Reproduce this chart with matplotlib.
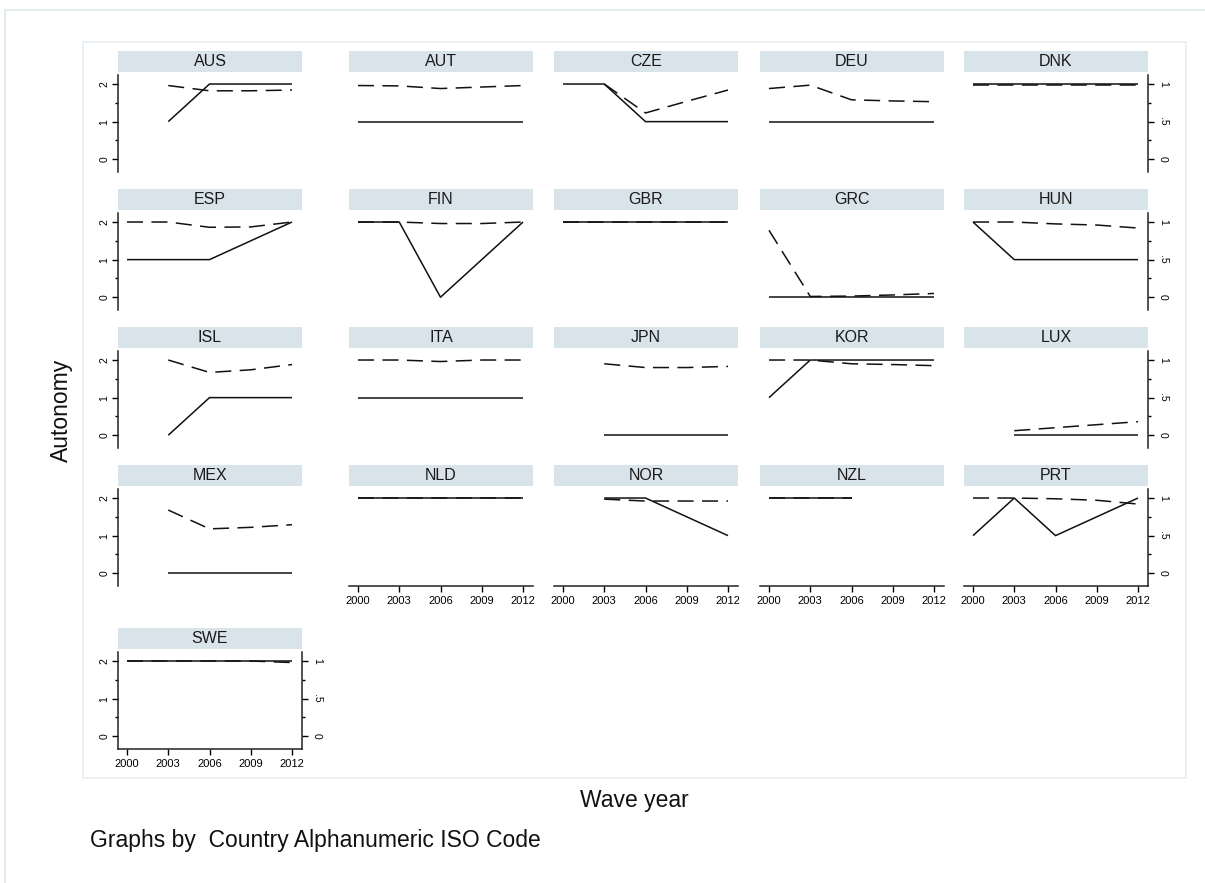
import numpy as np
import matplotlib
matplotlib.use("Agg")
import matplotlib.pyplot as plt
from matplotlib.patches import Rectangle
from matplotlib.ticker import FixedLocator

plt.rcParams['font.family'] = ['Liberation Sans', 'DejaVu Sans']

nan = np.nan
years = [2000, 2003, 2006, 2009, 2012]
countries = ["AUS", "AUT", "CZE", "DEU", "DNK",
             "ESP", "FIN", "GBR", "GRC", "HUN",
             "ISL", "ITA", "JPN", "KOR", "LUX",
             "MEX", "NLD", "NOR", "NZL", "PRT",
             "SWE"]
# solid line, left axis (0-2)
autonomy = [
    [nan, 1, 2, 2, 2],
    [1, 1, 1, 1, 1],
    [2, 2, 1, 1, 1],
    [1, 1, 1, 1, 1],
    [2, 2, 2, 2, 2],
    [1, 1, 1, 1.5, 2],
    [2, 2, 0, 1, 2],
    [2, 2, 2, 2, 2],
    [0, 0, 0, 0, 0],
    [2, 1, 1, 1, 1],
    [nan, 0, 1, 1, 1],
    [1, 1, 1, 1, 1],
    [nan, 0, 0, 0, 0],
    [1, 2, 2, 2, 2],
    [nan, 0, 0, 0, 0],
    [nan, 0, 0, 0, 0],
    [2, 2, 2, 2, 2],
    [nan, 2, 2, 1.5, 1],
    [2, 2, 2, nan, nan],
    [1, 2, 1, 1.5, 2],
    [2, 2, 2, 2, 2],
]
# dashed line, right axis (0-1)
share = [
    [nan, 0.98, 0.91, 0.91, 0.92],
    [0.98, 0.975, 0.94, 0.96, 0.98],
    [nan, 1.0, 0.615, 0.77, 0.92],
    [0.94, 0.985, 0.79, 0.775, 0.765],
    [0.985, 0.985, 0.985, 0.985, 0.985],
    [1.0, 1.0, 0.93, 0.935, 1.0],
    [1.0, 1.0, 0.98, 0.98, 1.0],
    [1.0, 1.0, 1.0, 1.0, 1.0],
    [0.89, 0.01, 0.015, 0.03, 0.05],
    [1.0, 1.0, 0.975, 0.96, 0.92],
    [nan, 1.0, 0.835, 0.87, 0.94],
    [1.0, 1.0, 0.98, 1.0, 1.0],
    [nan, 0.95, 0.9, 0.9, 0.915],
    [1.0, 1.0, 0.95, 0.94, 0.925],
    [nan, 0.06, 0.10, 0.14, 0.18],
    [nan, 0.84, 0.59, 0.61, 0.645],
    [1.0, 1.0, 1.0, 1.0, 1.0],
    [nan, 0.985, 0.96, 0.96, 0.96],
    [1.0, 1.0, 1.0, nan, nan],
    [1.0, 1.0, 0.99, 0.97, 0.92],
    [1.0, 1.0, 1.0, 1.0, 0.98],
]

W, H = 1205, 883
fig = plt.figure(figsize=(W / 100, H / 100), dpi=100)

def rect(x0, y0, x1, y1):
    return [x0 / W, 1 - y1 / H, (x1 - x0) / W, (y1 - y0) / H]

# outer and inner frames
fig.add_artist(Rectangle((5 / W, -0.1), 1.1, 1.1 - 10 / H, transform=fig.transFigure,
                         fill=False, ec='#e3ebef', lw=1.5))
fig.add_artist(Rectangle((83 / W, 1 - 778 / H), (1186 - 83) / W, (778 - 42) / H,
                         transform=fig.transFigure, fill=False, ec='#e6edf1', lw=1.2))

col_x = [118, 349, 554, 760, 964]
row_top = [75, 213, 351, 489, 652]
pw, ph = 184, 97
ink = '#111111'
n = len(countries)

for i, name in enumerate(countries):
    r, c = divmod(i, 5)
    x0, y0 = col_x[c], row_top[r]
    ax = fig.add_axes(rect(x0, y0, x0 + pw, y0 + ph))
    ax2 = ax.twinx()
    ax.set_xlim(2000 - 9 / 13.75, 2012 + 10 / 13.75)
    ax.set_ylim(-0.34, 2.24)
    ax2.set_ylim(-0.17, 1.12)
    ax.plot(years, autonomy[i], color=ink, lw=1.1, solid_capstyle='butt')
    ax2.plot(years, share[i], color=ink, lw=1.1, dashes=(10.5, 5.5))

    show_left = c == 0
    show_right = c == 4 or i == n - 1
    show_bottom = i + 5 >= n
    for a in (ax, ax2):
        for s in a.spines.values():
            s.set_visible(False)
        a.patch.set_visible(False)
    ax.spines['left'].set_visible(show_left)
    ax.spines['bottom'].set_visible(show_bottom)
    ax2.spines['right'].set_visible(show_right)
    for s in (ax.spines['left'], ax.spines['bottom'], ax2.spines['right']):
        s.set_linewidth(1.1)
        s.set_color('#222222')

    ax.set_xticks(years if show_bottom else [])
    ax.tick_params(axis='x', length=4, width=1, labelsize=8, pad=3)
    if show_left:
        ax.set_yticks([0, 1, 2])
        ax.yaxis.set_minor_locator(FixedLocator([0.5, 1.5]))
        ax.tick_params(axis='y', which='major', length=4, width=1, labelsize=7.5, pad=2)
        ax.tick_params(axis='y', which='minor', length=2, width=1)
        for t in ax.get_yticklabels():
            t.set_rotation(90)
            t.set_va('center')
    else:
        ax.set_yticks([])
    if show_right:
        ax2.set_yticks([0, 0.5, 1])
        ax2.set_yticklabels(['0', '.5', '1'])
        ax2.yaxis.set_minor_locator(FixedLocator([0.25, 0.75]))
        ax2.tick_params(axis='y', which='major', length=4, width=1, labelsize=7.5, pad=3)
        ax2.tick_params(axis='y', which='minor', length=2, width=1)
        for t in ax2.get_yticklabels():
            t.set_rotation(-90)
            t.set_va('center')
    else:
        ax2.set_yticks([])

    # strip header
    fig.add_artist(Rectangle((x0 / W, 1 - (y0 - 3) / H), pw / W, 21 / H,
                             transform=fig.transFigure, fc='#d9e4ea', ec='none'))
    fig.text((x0 + pw / 2) / W, 1 - (y0 - 13.5) / H, name, ha='center', va='center',
             fontsize=11.5, color='#1a1a1a')

fig.text(61 / W, 1 - 410 / H, "Autonomy", rotation=90, ha='center', va='center',
         fontsize=16.5, color='#111111')
fig.text(634 / W, 1 - 801 / H, "Wave year", ha='center', va='center',
         fontsize=16.5, color='#111111')
fig.text(90 / W, 1 - 841 / H, "Graphs by  Country Alphanumeric ISO Code", ha='left',
         va='center', fontsize=16.5, color='#111111')

fig.savefig("out.png", dpi=100)
